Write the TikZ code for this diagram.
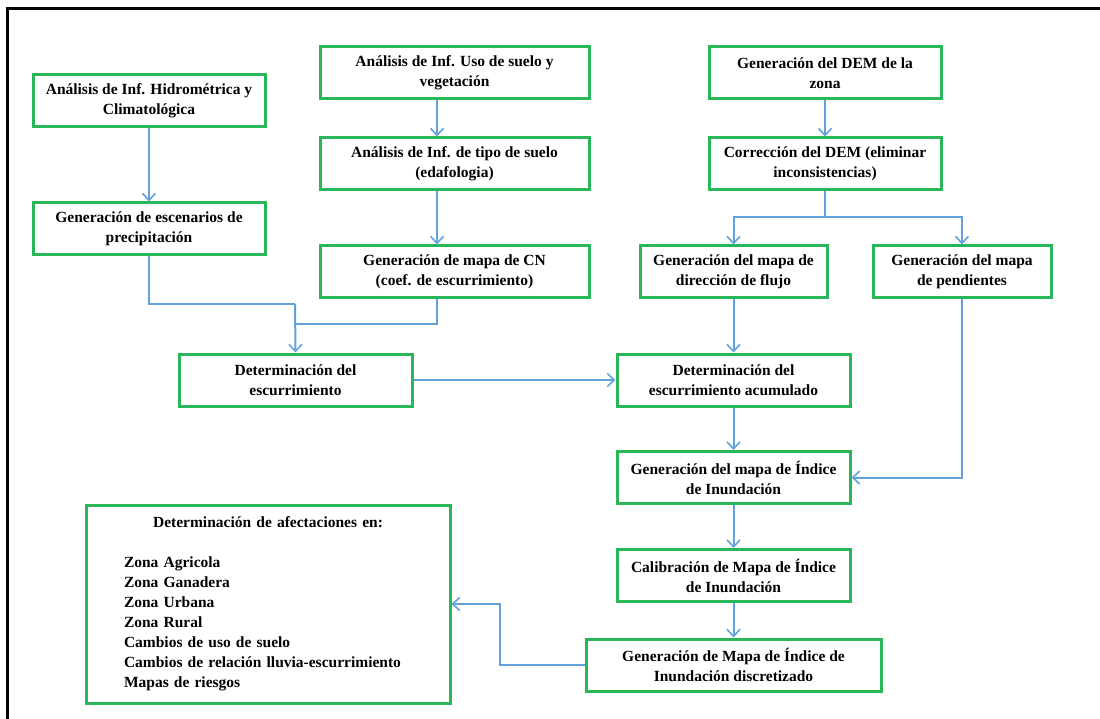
\documentclass[tikz,border=0pt]{standalone}
\usepackage{fontspec}
\setmainfont{Liberation Serif}
\usepackage{tikz}
\usetikzlibrary{arrows.meta,calc}
\definecolor{boxgreen}{RGB}{40,182,88}
\definecolor{arrowblue}{RGB}{98,160,222}
\tikzstyle{stepbox}=[rectangle,draw=boxgreen,line width=3pt,align=center,inner sep=0pt,minimum height=52pt,font=\bfseries\fontsize{15.5}{20}\selectfont]
\tikzstyle{edge} = [draw,line width=2pt,arrowblue,-{Straight Barb[length=7pt,width=13pt,line width=1.6pt]}]
\tikzstyle{undirectededge} = [draw,line width=2pt,arrowblue]

\begin{document}
\begin{tikzpicture}[x=1pt,y=-1pt]
    \useasboundingbox (0,0) rectangle (1100,719);
    % frame
    \draw[line width=3pt] (1100,9) -- (7,9) -- (7,719);

    \foreach \pos/ \name/ \bw/ \txt in {
        {(149,100.5)/hidro/232/{Análisis de Inf. Hidrométrica y\\Climatológica}},
        {(149,229)/precip/232/{Generación de escenarios de\\precipitación}},
        {(454.5,73)/uso/269/{Análisis de Inf. Uso de suelo y\\vegetación}},
        {(454.5,164)/tipo/269/{Análisis de Inf. de tipo de suelo\\(edafologia)}},
        {(454.5,272)/cn/269/{Generación de mapa de CN\\(coef. de escurrimiento)}},
        {(825,73)/dem/232/{Generación del DEM de la\\zona}},
        {(825,164)/corr/232/{Corrección del DEM (eliminar\\inconsistencias)}},
        {(733.5,272)/flujo/187/{Generación del mapa de\\dirección de flujo}},
        {(962,272)/pend/178/{Generación del mapa\\de pendientes}},
        {(295.5,380)/escurr/233/{Determinación del\\escurrimiento}},
        {(733.5,380)/acum/233/{Determinación del\\escurrimiento acumulado}},
        {(733.5,477.5)/indice/233/{Generación del mapa de Índice\\de Inundación}},
        {(733.5,575.5)/calib/233/{Calibración de Mapa de Índice\\de Inundación}},
        {(733.5,665)/discr/295/{Generación de Mapa de Índice de\\Inundación discretizado}}}
        \node[stepbox,minimum width=\bw pt] (\name) at \pos {\txt};

    \node[stepbox,minimum width=364pt,minimum height=198pt,align=left,text width=288pt] (afect) at (268,604)
        {\makebox[288pt]{Determinación de afectaciones en:}\\ \mbox{}\\
         Zona Agricola\\ Zona Ganadera\\ Zona Urbana\\ Zona Rural\\
         Cambios de uso de suelo\\ Cambios de relación lluvia-escurrimiento\\ Mapas de riesgos};

    % helper points for the bends
    \coordinate (colcn) at (437,0);
    \coordinate (jn) at (295,304);
    \coordinate (jcn) at (295,324);
    \coordinate (split) at (825,217);
    \coordinate (jd) at (500,0);

    % Connect boxes with arrows
    \foreach \source/ \dest in {hidro/precip, dem/corr, flujo/acum, acum/indice, indice/calib, calib/discr, escurr/acum}
        \path[edge] (\source) -- (\dest);
    \path[edge] (uso.south -| colcn) -- (tipo.north -| colcn);
    \path[edge] (tipo.south -| colcn) -- (cn.north -| colcn);

    \path[undirectededge] (precip.south) |- (jn);
    \path[undirectededge] (cn.south -| colcn) |- (jcn);
    \path[edge] (jn) -- (escurr.north);

    \path[undirectededge] (corr.south) -- (split);
    \path[edge] (split) -| (flujo.north);
    \path[edge] (split) -| (pend.north);

    \path[edge] (pend.south) |- (indice.east);
    \path[edge] (discr.west) -| (jd |- afect.east) -- (afect.east);
\end{tikzpicture}
\end{document}
